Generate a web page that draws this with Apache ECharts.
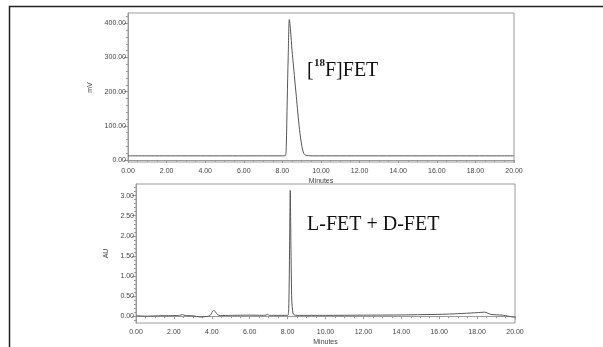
<!DOCTYPE html>
<html>
<head>
<meta charset="utf-8">
<style>
  html, body { margin: 0; padding: 0; background: #fff; }
  #chart { width: 603px; height: 347px; }
</style>
<script src="https://cdn.jsdelivr.net/npm/echarts@6/dist/echarts.min.js"></script>
</head>
<body>
<div id="chart"></div>
<script>
// radio trace (mV vs minutes)
const radioTimes = [0, 8.0, 8.15, 8.2, 8.25, 8.3, 8.36, 8.42, 8.5, 8.58, 8.66, 8.74, 8.82, 8.91, 8.98, 9.05, 9.12, 9.2, 9.35, 9.6, 20];
const radioValues = [12, 12, 12.5, 40, 175, 300, 411, 380, 320, 272, 222, 175, 125, 78, 50, 29, 18, 14, 12.5, 12, 12];

// UV trace (AU vs minutes)
const uvTimes = [0, 0.6, 1.2, 2.0, 2.3, 2.45, 2.6, 3.0, 3.4, 3.85, 3.95, 4.05, 4.12, 4.2, 4.3, 4.45, 5.0, 6.0, 6.8, 6.93, 7.05, 8.0, 8.06, 8.1, 8.14, 8.18, 8.22, 8.28, 8.35, 8.5, 10, 12, 14, 16.4, 18.0, 18.4, 18.72, 19.33, 20];
const uvValues = [0.01, 0.0, 0.01, 0.015, 0.02, 0.04, 0.015, 0.01, -0.02, 0.0, 0.04, 0.13, 0.145, 0.1, 0.04, 0.015, 0.02, 0.025, 0.02, 0.045, 0.02, 0.02, 0.2, 1.5, 3.13, 1.6, 0.4, 0.08, 0.03, 0.02, 0.02, 0.025, 0.03, 0.05, 0.087, 0.1, 0.045, 0.025, -0.03];

const xTicks = [0, 2, 4, 6, 8, 10, 12, 14, 16, 18, 20];
const mvTicks = [0, 100, 200, 300, 400];
const auTicks = [0, 0.5, 1.0, 1.5, 2.0, 2.5, 3.0];

const mvMinor = [];
for (let v = 20; v <= 420; v += 20) if (v % 100 !== 0) mvMinor.push(v);
const auMinor = [];
for (let i = -1; i <= 32; i++) if (i % 5 !== 0) auMinor.push(i / 10);

const chart = echarts.init(document.getElementById('chart'));

const axisGray = '#9a9a9a';
const labelStyle = { fontFamily: 'Liberation Sans', fontSize: 7, color: '#444' };

const makeX = (gridIndex) => ({
  type: 'value',
  gridIndex,
  min: 0,
  max: 20,
  interval: 2,
  name: 'Minutes',
  nameLocation: 'middle',
  nameGap: 16,
  nameTextStyle: labelStyle,
  axisLine: { lineStyle: { color: axisGray } },
  axisTick: { length: 3, lineStyle: { color: axisGray } },
  minorTick: { show: true, splitNumber: 4, length: 2, lineStyle: { color: axisGray } },
  axisLabel: { ...labelStyle, margin: 6, formatter: v => v.toFixed(2) },
  splitLine: { show: false }
});

chart.setOption({
  animation: false,
  grid: [
    { left: 128, top: 13, right: 89, bottom: 185, show: true, borderColor: axisGray, borderWidth: 1 },
    { left: 136, top: 184, right: 88, bottom: 20, show: true, borderColor: axisGray, borderWidth: 1 }
  ],
  xAxis: [makeX(0), makeX(1)],
  yAxis: [
    {
      type: 'value', gridIndex: 0, min: -6, max: 430,
      name: 'mV', nameLocation: 'middle', nameRotate: 90, nameGap: 28,
      nameTextStyle: labelStyle,
      axisLine: { show: true, lineStyle: { color: axisGray } },
      axisTick: { show: true, length: 4, customValues: mvTicks, lineStyle: { color: axisGray } },
      axisLabel: { ...labelStyle, margin: 2, customValues: mvTicks, formatter: v => v.toFixed(2) },
      splitLine: { show: false }
    },
    {
      type: 'value', gridIndex: 0, min: -6, max: 430, position: 'left',
      axisLine: { show: false },
      axisTick: { show: true, length: 2, customValues: mvMinor, lineStyle: { color: axisGray } },
      axisLabel: { show: false },
      splitLine: { show: false }
    },
    {
      type: 'value', gridIndex: 1, min: -0.17, max: 3.29,
      name: 'AU', nameLocation: 'middle', nameRotate: 90, nameGap: 20,
      nameTextStyle: labelStyle,
      axisLine: { show: true, lineStyle: { color: axisGray } },
      axisTick: { show: true, length: 4, customValues: auTicks, lineStyle: { color: axisGray } },
      axisLabel: { ...labelStyle, margin: 2, customValues: auTicks, formatter: v => v.toFixed(2) },
      splitLine: { show: false }
    },
    {
      type: 'value', gridIndex: 1, min: -0.17, max: 3.29, position: 'left',
      axisLine: { show: false },
      axisTick: { show: true, length: 2, customValues: auMinor, lineStyle: { color: axisGray } },
      axisLabel: { show: false },
      splitLine: { show: false }
    }
  ],
  series: [
    {
      type: 'line', xAxisIndex: 0, yAxisIndex: 0, symbol: 'none', smooth: 0.3,
      lineStyle: { color: '#555', width: 1 },
      data: radioTimes.map((t, i) => [t, radioValues[i]])
    },
    {
      type: 'line', xAxisIndex: 1, yAxisIndex: 2, symbol: 'none', smooth: 0.2,
      lineStyle: { color: '#555', width: 1 },
      data: uvTimes.map((t, i) => [t, uvValues[i]])
    }
  ],
  graphic: [
    {
      type: 'rect', silent: true,
      shape: { x: 9.5, y: 6.5, width: 700, height: 400 },
      style: { fill: 'none', stroke: '#222', lineWidth: 1.5 }
    },
    // [18F]FET label, superscript drawn as its own text
    {
      type: 'text', left: 307, top: 61,
      style: { text: '[', font: '20px "Liberation Serif"', fill: '#111' }
    },
    {
      type: 'text', left: 314, top: 58,
      style: { text: '18', font: 'bold 11px "Liberation Serif"', fill: '#111' }
    },
    {
      type: 'text', left: 325, top: 61,
      style: { text: 'F]FET', font: '20px "Liberation Serif"', fill: '#111' }
    },
    {
      type: 'text', left: 307, top: 215,
      style: { text: 'L-FET + D-FET', font: '20px "Liberation Serif"', fill: '#111' }
    }
  ]
});
</script>
</body>
</html>
